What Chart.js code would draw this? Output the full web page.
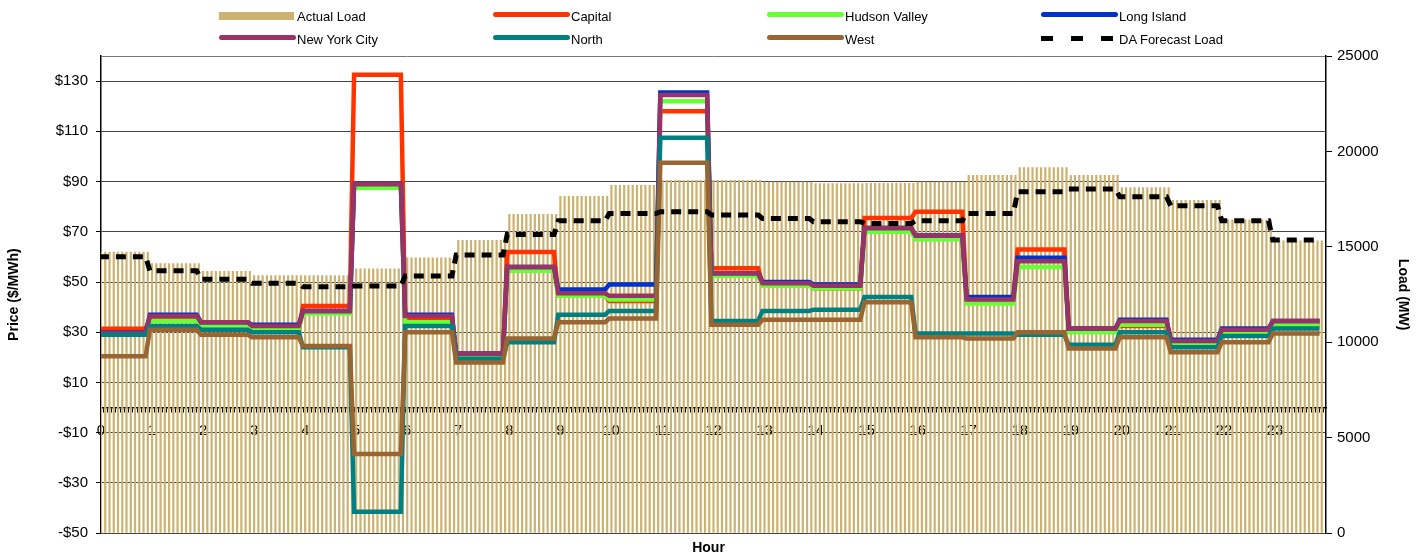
<!DOCTYPE html>
<html lang="en">
<head>
  <meta charset="UTF-8">
  <title>Zonal Prices and Load</title>
  <style>
    body {
      margin: 0;
      background: #fff;
      font-family: 'Liberation Sans', Arial, sans-serif;
    }
    .wrap {
      position: relative;
      width: 1417px;
      height: 557px;
    }
    #legend {
      position: absolute;
      left: 0;
      top: 0;
      width: 1417px;
      height: 50px;
    }
    .item {
      position: absolute;
      height: 20px;
      font-size: 13px;
      line-height: 20px;
      color: #000;
      white-space: nowrap;
    }
    .item .sw {
      position: absolute;
      left: 0;
    }
    .item span {
      position: absolute;
      left: 78px;
      top: 1px;
    }
  </style>
</head>
<body>
  <div class="wrap">
    <canvas id="chart" width="1417" height="557"></canvas>
    <div id="legend"></div>
  </div>

  <script src="https://cdn.jsdelivr.net/npm/chart.js"></script>
  <script>
    // hourly values
    const hourLabels = ['0','1','2','3','4','5','6','7','8','9','10','11','12','13','14','15','16','17','18','19','20','21','22','23'];
    const priceTicks = [-50, -30, -10, 10, 30, 50, 70, 90, 110, 130];
    const loadTicks = [0, 5000, 10000, 15000, 20000, 25000];

    const actualLoad = [14740, 14140, 13730, 13520, 13520, 13870, 14450, 15360, 16720, 17660, 18240, 18500,
                        18500, 18410, 18330, 18350, 18410, 18760, 19170, 18760, 18120, 17450, 16440, 15330];
    const daForecast = [14480, 13750, 13310, 13090, 12910, 12945, 13470, 14570, 15650, 16370, 16750, 16840,
                        16670, 16490, 16320, 16230, 16370, 16750, 17890, 18030, 17630, 17150, 16370, 15360];

    const capital  = [31.4, 35, 31.5, 31, 40.5, 132.5, 35, 21, 62, 44.5, 42.5, 118,
                      55.5, 49.5, 47.5, 75.5, 78, 43, 63, 31, 32.5, 25.5, 30, 33];
    const hudson   = [29, 34.5, 32.5, 31.5, 37.5, 87.5, 34, 20.5, 54.5, 44.5, 43, 122,
                      52.5, 48.5, 47.5, 70, 67, 41.5, 56, 30, 33, 25.5, 30, 33];
    const longIsl  = [30, 37, 34, 33, 38.5, 89, 37, 21.5, 56, 47, 49, 125.5,
                      53.5, 50, 49, 71.5, 68.5, 44, 59.7, 31.5, 35, 27, 31.5, 34.5];
    const nyc      = [29.8, 36.5, 34, 32.5, 38.5, 89, 36.5, 21.5, 56, 45.5, 44.5, 124.5,
                      53.5, 49.5, 48.5, 71.5, 68.5, 43, 58.3, 31.5, 34.5, 26.5, 31, 34.5];
    const north    = [29, 32.5, 31, 30, 24, -41.5, 32.5, 19.5, 26, 37, 38.5, 107.5,
                      34.5, 38.5, 39, 44, 29.5, 29.5, 29, 25, 30, 24, 28.5, 31.5];
    const west     = [20.5, 31, 29, 28, 24.5, -18.5, 30, 18, 27.5, 34, 35.5, 97.5,
                      33, 35, 35, 42, 28, 27.5, 30, 23.5, 28, 22, 26, 29.5];

    const FONT = "'Liberation Sans', Arial, sans-serif";

    // each hour is a flat step; the next hour starts 5 minutes later
    function stepPoints(values) {
      const pts = [];
      values.forEach((v, h) => {
        pts.push({ x: h - 1 / 24, y: v });
        pts.push({ x: h + 11 / 12 - 1 / 24, y: v });
      });
      return pts;
    }

    // 5-minute bars, 12 per hour
    function loadBars(values) {
      const pts = [];
      values.forEach((v, h) => {
        for (let k = 0; k < 12; k++) pts.push({ x: h + k / 12, y: v });
      });
      return pts;
    }

    function priceLine(label, values, color, order) {
      return {
        type: 'line',
        label: label,
        data: stepPoints(values),
        borderColor: color,
        backgroundColor: color,
        borderWidth: 4.5,
        pointRadius: 0,
        tension: 0,
        yAxisID: 'y',
        order: order
      };
    }

    Chart.defaults.font.family = FONT;
    Chart.defaults.color = '#000';

    const ctx = document.getElementById('chart').getContext('2d');
    const chart = new Chart(ctx, {
      type: 'bar',
      data: {
        datasets: [
          {
            type: 'bar',
            label: 'Actual Load',
            data: loadBars(actualLoad),
            backgroundColor: '#CCB271',
            borderWidth: 0,
            barPercentage: 0.52,
            categoryPercentage: 1,
            yAxisID: 'yLoad',
            order: 10
          },
          priceLine('Capital', capital, '#FF3300', 7),
          priceLine('Hudson Valley', hudson, '#66FF33', 6),
          priceLine('Long Island', longIsl, '#0033CC', 5),
          priceLine('New York City', nyc, '#993366', 4),
          priceLine('North', north, '#008080', 3),
          priceLine('West', west, '#996633', 2),
          {
            type: 'line',
            label: 'DA Forecast Load',
            data: stepPoints(daForecast),
            borderColor: '#000',
            backgroundColor: '#000',
            borderWidth: 5,
            borderDash: [10, 7],
            pointRadius: 0,
            tension: 0,
            yAxisID: 'yLoad',
            order: 1
          }
        ]
      },
      options: {
        responsive: false,
        animation: false,
        devicePixelRatio: 1,
        layout: { padding: { top: 56, left: 0, right: 0, bottom: 0 } },
        plugins: {
          legend: { display: false },
          tooltip: { enabled: false },
          title: {
            display: true,
            position: 'bottom',
            text: 'Hour',
            color: '#000',
            font: { family: FONT, size: 14, weight: 'bold' },
            padding: { top: 7, bottom: 0 }
          }
        },
        scales: {
          x: {
            type: 'linear',
            position: { y: 0 },
            min: 0,
            max: 24,
            offset: false,
            z: 1,
            afterBuildTicks: (scale) => {
              scale.ticks = Array.from({ length: 289 }, (_, i) => ({ value: i / 12 }));
            },
            ticks: {
              autoSkip: false,
              maxRotation: 0,
              padding: 10,
              font: { family: FONT, size: 15, weight: 'normal' },
              color: '#000',
              callback: (v, i) => (i % 12 === 0 && i < 288) ? hourLabels[i / 12] : ''
            },
            grid: { drawOnChartArea: false, drawTicks: true, tickLength: 4, color: '#000' },
            border: { display: true, color: '#000', width: 1.5 }
          },
          y: {
            position: 'left',
            min: -50,
            max: 140,
            afterBuildTicks: (scale) => {
              scale.ticks = priceTicks.concat([140]).map(v => ({ value: v }));
            },
            afterFit: (scale) => { scale.width = 101; },
            ticks: {
              padding: 8,
              font: { family: FONT, size: 15 },
              color: '#000',
              callback: (v) => priceTicks.includes(v) ? (v < 0 ? '-$' + (-v) : '$' + v) : ''
            },
            grid: {
              color: (c) => c.tick && c.tick.value === 140 ? '#777' : '#444',
              tickColor: (c) => c.tick && c.tick.value === 140 ? 'rgba(0,0,0,0)' : '#000',
              tickLength: 5,
              lineWidth: 1
            },
            border: { display: true, color: '#000', width: 1.5 },
            title: {
              display: true,
              text: 'Price ($/MWh)',
              color: '#000',
              font: { family: FONT, size: 14, weight: 'bold' },
              padding: { top: 6, bottom: 0 }
            }
          },
          yLoad: {
            position: 'right',
            min: 0,
            max: 25000,
            afterBuildTicks: (scale) => {
              scale.ticks = loadTicks.map(v => ({ value: v }));
            },
            afterFit: (scale) => { scale.width = 91; },
            ticks: {
              padding: 5,
              font: { family: FONT, size: 15 },
              color: '#000',
              callback: (v) => String(v)
            },
            grid: { drawOnChartArea: false, tickLength: 6, color: '#000' },
            border: { display: true, color: '#000', width: 1.5 },
            title: {
              display: true,
              text: 'Load (MW)',
              color: '#000',
              font: { family: FONT, size: 14, weight: 'bold' },
              padding: { top: 6, bottom: 0 }
            }
          }
        }
      }
    });

    // legend: 4 columns x 2 rows, built from the datasets
    const legend = document.getElementById('legend');
    chart.data.datasets.forEach((ds, i) => {
      const col = i % 4;
      const row = Math.floor(i / 4);
      const item = document.createElement('div');
      item.className = 'item';
      item.style.left = (219 + col * 274) + 'px';
      item.style.top = (6 + row * 23) + 'px';
      const sw = document.createElement('div');
      sw.className = 'sw';
      if (ds.type === 'bar') {
        sw.style.cssText = 'top:6px;width:75px;height:8px;background:' + ds.backgroundColor;
      } else if (ds.borderDash) {
        sw.style.cssText = 'top:7px;width:73px;height:5px;background:repeating-linear-gradient(to right,#000 0 12px,transparent 12px 30px)';
      } else {
        sw.style.cssText = 'top:6px;width:77px;height:5px;border-radius:3px;background:' + ds.borderColor;
      }
      const txt = document.createElement('span');
      txt.textContent = ds.label;
      item.appendChild(sw);
      item.appendChild(txt);
      legend.appendChild(item);
    });
  </script>
</body>
</html>
